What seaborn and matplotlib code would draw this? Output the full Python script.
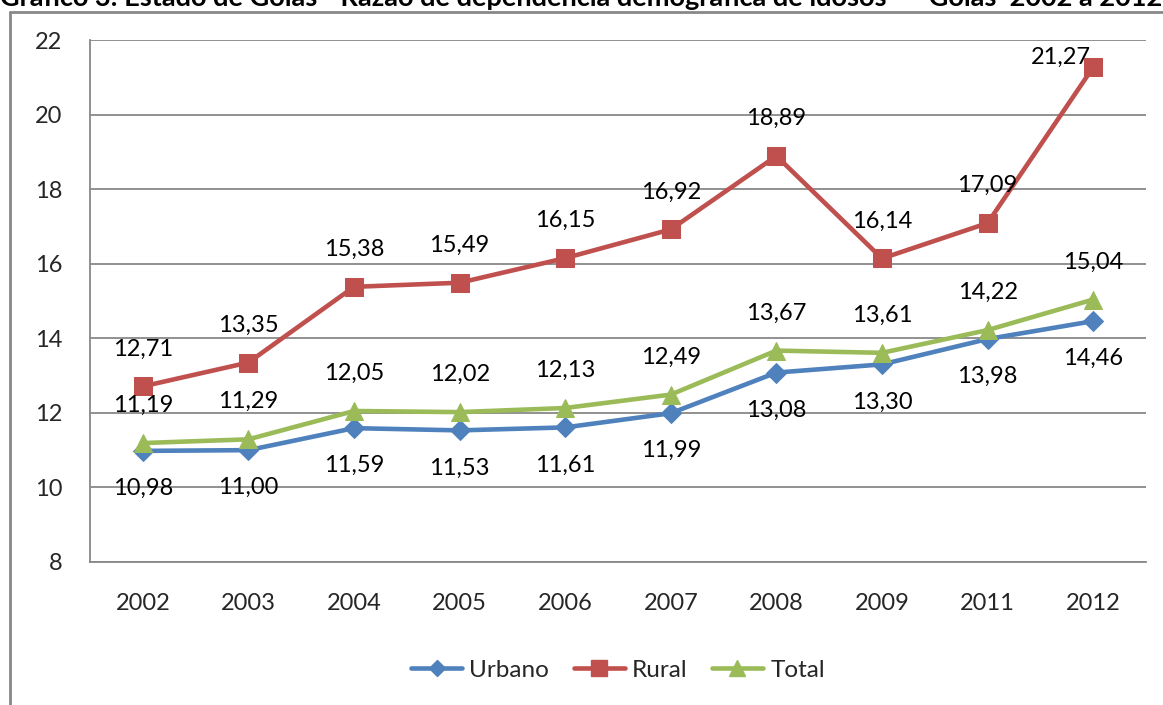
import matplotlib
matplotlib.use('Agg')
import matplotlib.pyplot as plt
import seaborn as sns
import pandas as pd
import numpy as np
from matplotlib.lines import Line2D

# dados do gráfico
anos = ['2002', '2003', '2004', '2005', '2006', '2007', '2008', '2009', '2011', '2012']
urbano = [10.98, 11.00, 11.59, 11.53, 11.61, 11.99, 13.08, 13.30, 13.98, 14.46]
rural = [12.71, 13.35, 15.38, 15.49, 16.15, 16.92, 18.89, 16.14, 17.09, 21.27]
total = [11.19, 11.29, 12.05, 12.02, 12.13, 12.49, 13.67, 13.61, 14.22, 15.04]
y_ticks = [8, 10, 12, 14, 16, 18, 20, 22]

titulo = 'Gráfico 3: Estado de Goiás - Razão de dependência demográfica de idosos  –  Goiás  2002 a 2012'

sns.set_theme(style='white')
plt.rcParams['font.family'] = ['Lato', 'DejaVu Sans']

df = pd.DataFrame({'pos': np.arange(len(anos)), 'ano': anos,
                   'Urbano': urbano, 'Rural': rural, 'Total': total})

# estilo de cada série: cor, marcador, tamanho, posição do rótulo
series = [
    ('Urbano', '#4F81BD', 'D', 10, -27),
    ('Rural', '#C0504D', 's', 13, 27),
    ('Total', '#9BBB59', '^', 13, 27),
]

fig = plt.figure(figsize=(11.63, 7.05), dpi=100)
ax = fig.add_axes([90 / 1163, 1 - 562 / 705, (1146 - 90) / 1163, (562 - 40) / 705])

for nome, cor, mk, ms, dy in series:
    sns.lineplot(data=df, x='pos', y=nome, ax=ax, color=cor, marker=mk,
                 markersize=ms, markeredgecolor=cor, linewidth=3.3,
                 label=nome, zorder=3)
    for i, (x, v) in enumerate(zip(df['pos'], df[nome])):
        off = (0, dy)
        if nome == 'Rural' and i == len(anos) - 1:
            # rótulo deslocado para não sair da área do gráfico
            off = (-23, 7)
        ax.annotate(f'{v:.2f}'.replace('.', ','), (x, v), xytext=off,
                    textcoords='offset points', ha='center', va='center',
                    fontsize=17, color='black', zorder=4)

ax.set_xlim(-0.5, len(anos) - 0.5)
ax.set_ylim(8, 22)
ax.set_yticks(y_ticks)
ax.set_yticklabels([str(t) for t in y_ticks], fontsize=17)
ax.set_xticks(range(len(anos)))
ax.set_xticklabels(anos, fontsize=17)
ax.set_xticks(np.arange(-0.5, len(anos)), minor=True)
ax.tick_params(axis='x', which='major', length=0, pad=22)
ax.tick_params(axis='x', which='minor', length=8, width=1.3, color='#888888', direction='out')
ax.tick_params(axis='y', which='major', length=8, width=1.3, color='#888888',
               direction='out', pad=12)
ax.set_xlabel('')
ax.set_ylabel('')

ax.grid(axis='y', color='#888888', linewidth=1.3)
ax.set_axisbelow(True)
for s in ['top', 'right']:
    ax.spines[s].set_visible(False)
for s in ['left', 'bottom']:
    ax.spines[s].set_color('#888888')
    ax.spines[s].set_linewidth(1.3)

handles = [Line2D([], [], color=c, marker=m, markersize=ms * 0.85, linewidth=3.3)
           for _, c, m, ms, _ in series]
ax.legend(handles, [s[0] for s in series], loc='center',
          bbox_to_anchor=(0.5, -(670 - 562) / (562 - 40)), ncol=3,
          frameon=False, fontsize=17.5, handlelength=2.1, columnspacing=1.0,
          handletextpad=0.3)

# moldura do gráfico (cortada nas bordas)
fig.add_artist(Line2D([10 / 1163, 10 / 1163], [0, 1 - 12 / 705],
                      transform=fig.transFigure, color='#888888', linewidth=2))
fig.add_artist(Line2D([10 / 1163, 1], [1 - 12 / 705, 1 - 12 / 705],
                      transform=fig.transFigure, color='#888888', linewidth=2))

fig.text(0.5, 1 - 6 / 705, titulo, ha='center', va='baseline',
         fontsize=19.5, fontweight='bold', color='black')

fig.savefig('out.png', dpi=100)
